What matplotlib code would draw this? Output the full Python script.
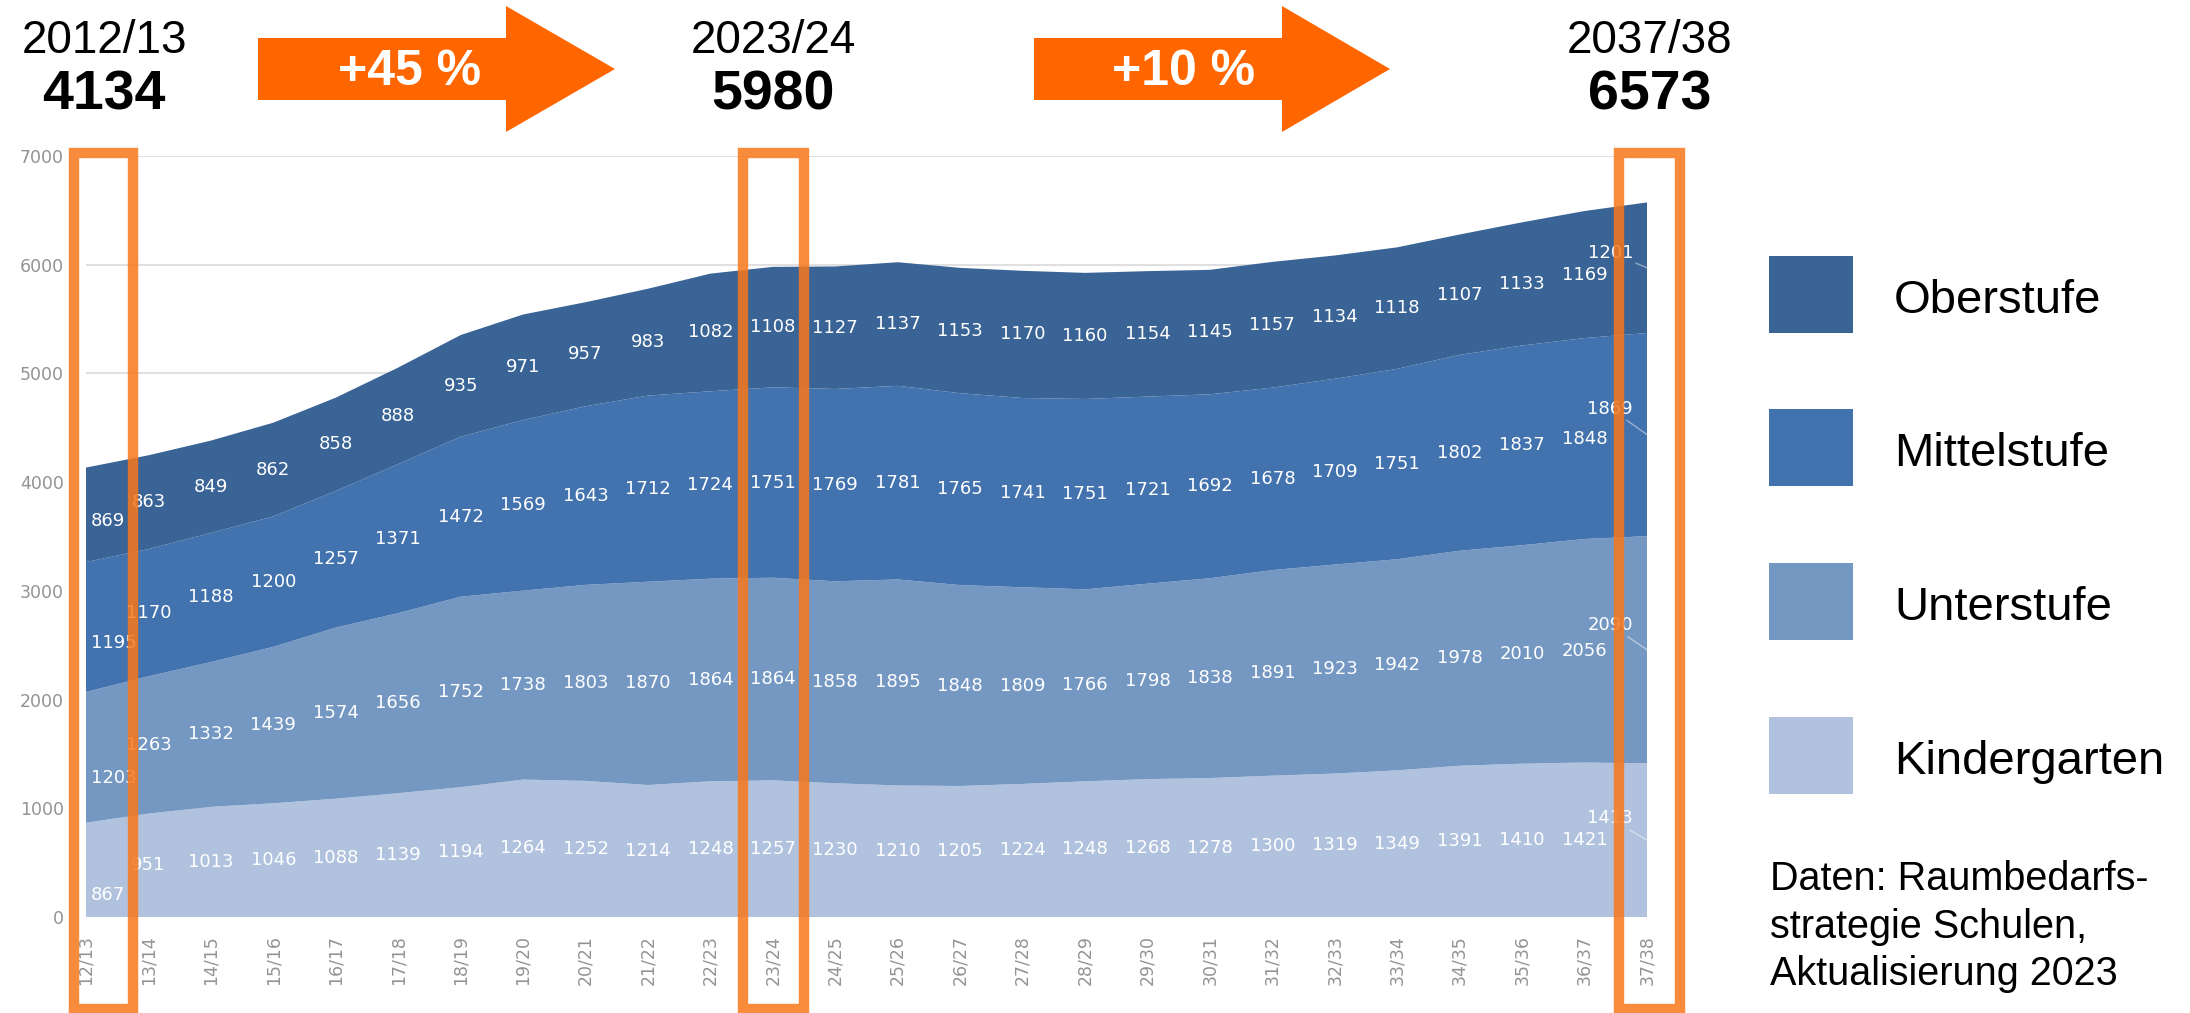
import matplotlib
matplotlib.use("Agg")
import matplotlib.pyplot as plt
from matplotlib.patches import Polygon, Rectangle

# ---------------- data ----------------
years = ["12/13", "13/14", "14/15", "15/16", "16/17", "17/18", "18/19", "19/20",
         "20/21", "21/22", "22/23", "23/24", "24/25", "25/26", "26/27", "27/28",
         "28/29", "29/30", "30/31", "31/32", "32/33", "33/34", "34/35", "35/36",
         "36/37", "37/38"]
kindergarten = [867, 951, 1013, 1046, 1088, 1139, 1194, 1264, 1252, 1214, 1248, 1257, 1230,
                1210, 1205, 1224, 1248, 1268, 1278, 1300, 1319, 1349, 1391, 1410, 1421, 1413]
unterstufe = [1203, 1263, 1332, 1439, 1574, 1656, 1752, 1738, 1803, 1870, 1864, 1864, 1858,
              1895, 1848, 1809, 1766, 1798, 1838, 1891, 1923, 1942, 1978, 2010, 2056, 2090]
mittelstufe = [1195, 1170, 1188, 1200, 1257, 1371, 1472, 1569, 1643, 1712, 1724, 1751, 1769,
               1781, 1765, 1741, 1751, 1721, 1692, 1678, 1709, 1751, 1802, 1837, 1848, 1869]
oberstufe = [869, 863, 849, 862, 858, 888, 935, 971, 957, 983, 1082, 1108, 1127,
             1137, 1153, 1170, 1160, 1154, 1145, 1157, 1134, 1118, 1107, 1133, 1169, 1201]
series_names = ["Kindergarten", "Unterstufe", "Mittelstufe", "Oberstufe"]
milestones = [0, 11, 25]            # indices of 2012/13, 2023/24, 2037/38
milestone_titles = ["2012/13", "2023/24", "2037/38"]
source_lines = ["Daten: Raumbedarfs-", "strategie Schulen,", "Aktualisierung 2023"]

# ---------------- styles ----------------
colors = ["#B0C2DD", "#7598C3", "#4373AE", "#3A6496"]
orange = "#FF6600"
box_col = "#F9781A"
first_dy = [-25, -21, -16, -6]     # manual label nudges (pixels)
last_dy = [22, 25, 26, 15]

W, H = 2190, 1013
fig = plt.figure(figsize=(W / 100, H / 100), dpi=100)
fig.patch.set_facecolor("white")


def fx(px):
    return px / W


def fy(py):
    return 1 - py / H


series = [kindergarten, unterstufe, mittelstufe, oberstufe]
n = len(years)
xs = list(range(n))

ax = fig.add_axes([fx(86), fy(917), fx(1647) - fx(86), fy(156) - fy(917)])
ax.stackplot(xs, series, colors=colors, linewidth=0)
ax.set_xlim(0, n - 1)
ax.set_ylim(0, 7000)
ax.set_yticks(range(0, 7001, 1000))
ax.yaxis.grid(True, color="#E0E0E0", lw=1.5)
ax.set_axisbelow(True)
for s in ax.spines.values():
    s.set_visible(False)
ax.set_xticks(xs)
ax.set_xticklabels(years, rotation=90, fontsize=12.5, color="#939393")
ax.tick_params(axis="x", length=0, pad=13)
ax.tick_params(axis="y", length=0, pad=16, labelsize=12.5, labelcolor="#939393")

# data labels
bottom = [0] * n
for si, vals in enumerate(series):
    for i, v in enumerate(vals):
        mid = bottom[i] + v / 2
        if i == 0:
            ax.annotate(str(v), (i, mid), xytext=(5, first_dy[si]), textcoords="offset pixels",
                        ha="left", va="center", color="white", fontsize=13)
        elif i == n - 1:
            ax.annotate(str(v), (i, mid), xytext=(-14, last_dy[si]), textcoords="offset pixels",
                        ha="right", va="center", color="white", fontsize=13,
                        arrowprops=dict(arrowstyle="-", color="white", alpha=0.45, lw=1,
                                        shrinkA=0, shrinkB=0))
        else:
            ax.annotate(str(v), (i, mid), xytext=(0, 0), textcoords="offset pixels",
                        ha="center", va="center", color="white", fontsize=13)
        bottom[i] += v

totals = bottom

# orange highlight boxes
for (x0, x1) in [(73.5, 133), (743, 804), (1619, 1680)]:
    r = Rectangle((fx(x0), fy(1009)), fx(x1) - fx(x0), fy(153) - fy(1009),
                  transform=fig.transFigure, fill=False, edgecolor=box_col, alpha=0.85,
                  lw=7.5, joinstyle="miter", zorder=10)
    fig.add_artist(r)

# milestone texts
for idx, title, cx in zip(milestones, milestone_titles, [104, 773, 1650]):
    fig.text(fx(cx), fy(53), title, ha="center", va="baseline", fontsize=33,
             family="Liberation Sans", color="black")
    fig.text(fx(cx), fy(110), str(totals[idx]), ha="center", va="baseline", fontsize=40,
             family="Liberation Sans", fontweight="bold", color="black")

# arrows with growth
for (a, b), (x0, x1, tip, tx) in zip([(0, 1), (1, 2)],
                                     [(258, 506, 615, 410), (1034, 1282, 1390, 1184)]):
    pts = [(x0, 38), (x1, 38), (x1, 6), (tip, 69), (x1, 132), (x1, 100), (x0, 100)]
    poly = Polygon([(fx(px), fy(py)) for px, py in pts], closed=True,
                   transform=fig.transFigure, facecolor=orange, edgecolor="none")
    fig.add_artist(poly)
    pct = round((totals[milestones[b]] / totals[milestones[a]] - 1) * 100)
    fig.text(fx(tx), fy(85), f"+{pct} %", ha="center", va="baseline", fontsize=36,
             family="Liberation Sans", fontweight="bold", color="white")

# legend
for name, col, base in zip(series_names[::-1], colors[::-1], [313, 466, 620, 774]):
    sq_top = base - 57
    r = Rectangle((fx(1769), fy(sq_top + 77)), fx(1853) - fx(1769), fy(sq_top) - fy(sq_top + 77),
                  transform=fig.transFigure, facecolor=col, edgecolor="none")
    fig.add_artist(r)
    fig.text(fx(1894), fy(base), name, ha="left", va="baseline", fontsize=34,
             family="Liberation Sans", color="black")

for line, base in zip(source_lines, [890, 938, 985]):
    fig.text(fx(1770), fy(base), line, ha="left", va="baseline", fontsize=28.5,
             family="Liberation Sans", color="black")

fig.savefig("out.png", dpi=100, facecolor="white")
